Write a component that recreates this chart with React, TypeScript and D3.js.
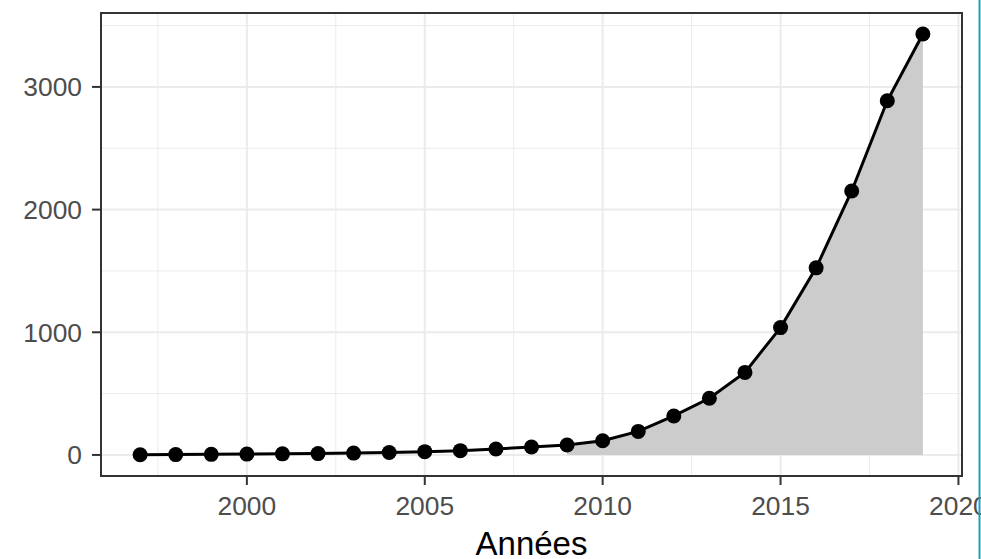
import React from "react";
import * as d3 from "d3";

const years = [1997, 1998, 1999, 2000, 2001, 2002, 2003, 2004, 2005, 2006, 2007, 2008, 2009, 2010, 2011, 2012, 2013, 2014, 2015, 2016, 2017, 2018, 2019];
const counts = [2, 3, 5, 7, 9, 11, 15, 20, 27, 35, 49, 65, 81, 116, 192, 318, 462, 673, 1038, 1525, 2152, 2887, 3431];
const areaStartYear = 2009;
const xTicks = [2000, 2005, 2010, 2015, 2020];
const xMinor = [1997.5, 2002.5, 2007.5, 2012.5, 2017.5];
const yTicks = [0, 1000, 2000, 3000];
const yMinor = [500, 1500, 2500, 3500];
const xTitle = "Années";

const W = 981;
const H = 559;
const panel = { left: 101, right: 962, top: 13, bottom: 476 };
const FONT = "'Liberation Sans', Arial, Helvetica, sans-serif";

export default function App() {
  const data = years.map((y, i) => ({ year: y, value: counts[i] }));
  const xMin = d3.min(years)!;
  const xMax = d3.max(years)!;
  const xPad = (xMax - xMin) * 0.05;
  const yMax = d3.max(counts)!;
  const yLo = 0;
  const yPad = (yMax - yLo) * 0.05;

  const x = d3.scaleLinear().domain([xMin - xPad, xMax + xPad]).range([panel.left, panel.right]);
  const y = d3.scaleLinear().domain([yLo - yPad, yMax + yPad]).range([panel.bottom, panel.top]);

  const line = d3.line<{ year: number; value: number }>().x((d) => x(d.year)).y((d) => y(d.value));
  const area = d3
    .area<{ year: number; value: number }>()
    .x((d) => x(d.year))
    .y0(() => y(0))
    .y1((d) => y(d.value));
  const areaData = data.filter((d) => d.year >= areaStartYear);

  return (
    <svg width={W} height={H} style={{ position: "absolute", left: 0, top: 0, background: "#fff" }}>
      <rect x={0} y={0} width={W} height={H} fill="#fff" />
      <rect x={panel.left} y={panel.top} width={panel.right - panel.left} height={panel.bottom - panel.top} fill="#fff" />
      {xMinor.map((t) => (
        <line key={"xm" + t} x1={x(t)} x2={x(t)} y1={panel.top} y2={panel.bottom} stroke="#ebebeb" strokeWidth={1} />
      ))}
      {yMinor.map((t) => (
        <line key={"ym" + t} x1={panel.left} x2={panel.right} y1={y(t)} y2={y(t)} stroke="#ebebeb" strokeWidth={1} />
      ))}
      {xTicks.map((t) => (
        <line key={"xg" + t} x1={x(t)} x2={x(t)} y1={panel.top} y2={panel.bottom} stroke="#ebebeb" strokeWidth={2} />
      ))}
      {yTicks.map((t) => (
        <line key={"yg" + t} x1={panel.left} x2={panel.right} y1={y(t)} y2={y(t)} stroke="#ebebeb" strokeWidth={2} />
      ))}
      <path d={area(areaData) || ""} fill="#cccccc" />
      <path d={line(data) || ""} fill="none" stroke="#000" strokeWidth={3} />
      {data.map((d) => (
        <circle key={d.year} cx={x(d.year)} cy={y(d.value)} r={7.5} fill="#000" />
      ))}
      <rect
        x={panel.left}
        y={panel.top}
        width={panel.right - panel.left}
        height={panel.bottom - panel.top}
        fill="none"
        stroke="#333333"
        strokeWidth={2}
      />
      {yTicks.map((t) => (
        <g key={"yt" + t}>
          <line x1={panel.left - 9} x2={panel.left} y1={y(t)} y2={y(t)} stroke="#333333" strokeWidth={2} />
          <text x={panel.left - 19} y={y(t)} dy="0.36em" textAnchor="end" fontFamily={FONT} fontSize={26.4} fill="#4d4d4d">
            {t}
          </text>
        </g>
      ))}
      {xTicks.map((t) => (
        <g key={"xt" + t}>
          <line x1={x(t)} x2={x(t)} y1={panel.bottom} y2={panel.bottom + 9} stroke="#333333" strokeWidth={2} />
          <text x={x(t)} y={515} textAnchor="middle" fontFamily={FONT} fontSize={26.4} fill="#4d4d4d">
            {t}
          </text>
        </g>
      ))}
      <text x={(panel.left + panel.right) / 2} y={555} textAnchor="middle" fontFamily={FONT} fontSize={33} fill="#000">
        {xTitle}
      </text>
      <line x1={979.5} x2={979.5} y1={0} y2={H} stroke="#1ba1c4" strokeWidth={2} />
    </svg>
  );
}
